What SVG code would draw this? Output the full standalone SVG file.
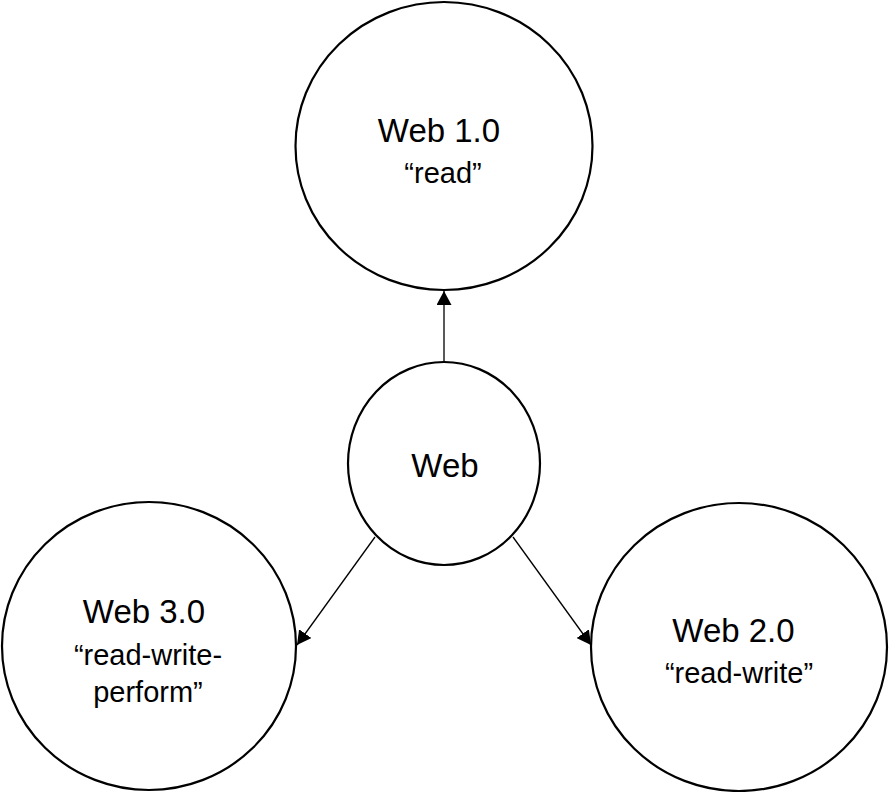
<svg xmlns="http://www.w3.org/2000/svg" width="892" height="792" viewBox="0 0 892 792">
<style>
.node{fill:#fff;stroke:#000;stroke-width:2.2}
.t{font-family:"Liberation Sans",Arial,sans-serif;fill:#000;text-anchor:middle}
.big{font-size:33px}
.small{font-size:29px}
.conn{stroke:#000;stroke-width:1.3;fill:none}
</style>
<defs>
<marker id="arr" markerWidth="14" markerHeight="15" refX="14" refY="7.5" orient="auto" markerUnits="userSpaceOnUse" viewBox="0 0 14 15">
<path d="M0,0 L14,7.5 L0,15 Z" fill="#000"/>
</marker>
</defs>
<rect width="892" height="792" fill="#fff"/>
<g id="n-web1">
<ellipse class="node" cx="444" cy="146" rx="148.5" ry="144"/>
<text class="t big" x="439" y="142">Web 1.0</text>
<text class="t small" x="443" y="183">“read”</text>
</g>
<g id="n-web">
<ellipse class="node" cx="444" cy="463.5" rx="96" ry="101.5"/>
<text class="t big" x="445" y="477">Web</text>
</g>
<g id="n-web3">
<ellipse class="node" cx="149" cy="646" rx="147" ry="144"/>
<text class="t big" x="144" y="623">Web 3.0</text>
<text class="t small" x="148" y="665">“read-write-</text>
<text class="t small" x="148" y="702">perform”</text>
</g>
<g id="n-web2">
<ellipse class="node" cx="739" cy="647" rx="148" ry="144"/>
<text class="t big" x="733.5" y="642">Web 2.0</text>
<text class="t small" x="739" y="683">“read-write”</text>
</g>
<g id="connectors">
<line class="conn" x1="444" y1="362" x2="444" y2="291" marker-end="url(#arr)"/>
<line class="conn" x1="375" y1="537" x2="297" y2="645" marker-end="url(#arr)"/>
<line class="conn" x1="513" y1="537" x2="591" y2="645" marker-end="url(#arr)"/>
</g>
</svg>
